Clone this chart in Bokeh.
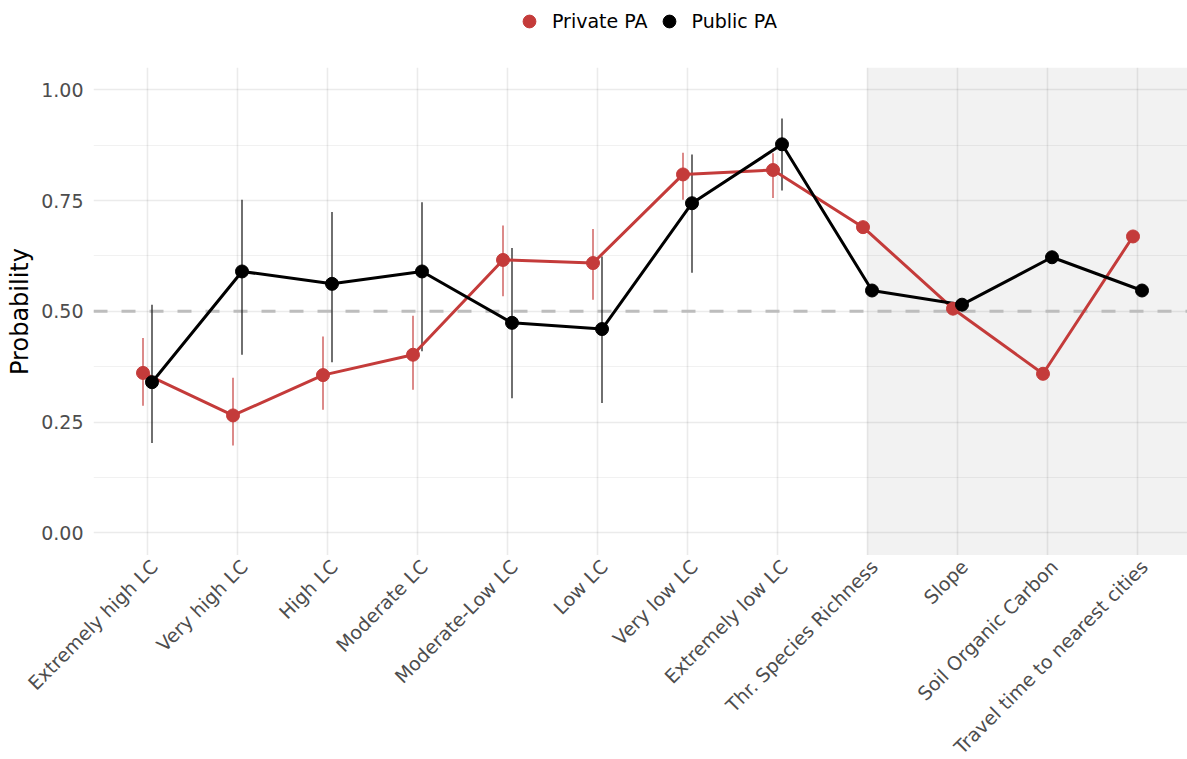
import math
from bokeh.plotting import figure
from bokeh.layouts import column, row
from bokeh.models import (ColumnDataSource, Range1d, FixedTicker, BoxAnnotation, Span,
                          Legend, LegendItem, NumeralTickFormatter)
from bokeh.core.properties import value
from bokeh.embed import file_html
from bokeh.resources import INLINE

# ---- data -------------------------------------------------------------
categories = ["Extremely high LC", "Very high LC", "High LC", "Moderate LC",
              "Moderate-Low LC", "Low LC", "Very low LC", "Extremely low LC",
              "Thr. Species Richness", "Slope", "Soil Organic Carbon",
              "Travel time to nearest cities"]

private_prob = [0.361, 0.265, 0.356, 0.402, 0.616, 0.609, 0.809, 0.819,
                0.690, 0.506, 0.359, 0.669]
public_prob = [0.340, 0.590, 0.562, 0.590, 0.474, 0.460, 0.744, 0.877,
               0.547, 0.515, 0.622, 0.547]

# confidence intervals exist for the land-cover classes only
private_lo = [0.287, 0.197, 0.278, 0.323, 0.534, 0.526, 0.752, 0.756]
private_hi = [0.440, 0.350, 0.443, 0.490, 0.694, 0.686, 0.858, 0.857]
public_lo = [0.203, 0.402, 0.385, 0.410, 0.304, 0.293, 0.587, 0.773]
public_hi = [0.515, 0.752, 0.724, 0.746, 0.643, 0.624, 0.854, 0.935]

y_ticks = [0.0, 0.25, 0.5, 0.75, 1.0]
y_minor = [0.125, 0.375, 0.625, 0.875]

# ---- styling ----------------------------------------------------------
RED = "#C43B3A"
BLACK = "#000000"
FONT = "DejaVu Sans"
DODGE = 0.05

W = 1187
LEGEND_H = 45          # strip holding the legend
TOP = 22               # gap between legend strip and panel
FRAME_H = 488          # panel height
LABEL_H = 204          # strip holding the rotated category names
LEFT = 93
px_per_unit = 90.0
x_start = 1 - 54 / px_per_unit
x_end = x_start + (W - LEFT) / px_per_unit

pos = list(range(1, len(categories) + 1))


def bare(fig):
    fig.outline_line_color = None
    fig.background_fill_color = "white"
    fig.border_fill_color = "white"
    return fig


# ---- main panel -------------------------------------------------------
p = bare(figure(width=W, height=TOP + FRAME_H, output_backend="svg",
                toolbar_location=None,
                x_range=Range1d(x_start, x_end), y_range=Range1d(-0.0512, 1.0504),
                min_border_left=LEFT, min_border_right=0, min_border_top=TOP,
                min_border_bottom=0))

# shaded panel behind the non land-cover covariates
p.add_layout(BoxAnnotation(left=9, fill_color="#f2f2f2", fill_alpha=1.0,
                           line_color=None, level="image"))

p.xgrid.ticker = FixedTicker(ticks=pos)
p.ygrid.ticker = FixedTicker(ticks=y_ticks, minor_ticks=y_minor)
for g in (p.xgrid, p.ygrid):
    g.grid_line_color = "black"
    g.grid_line_alpha = 0.08
    g.grid_line_width = 1.6
p.ygrid.minor_grid_line_color = "black"
p.ygrid.minor_grid_line_alpha = 0.055
p.ygrid.minor_grid_line_width = 1.0

# reference line at 0.5
p.add_layout(Span(location=0.5, dimension="width", line_color="#bdbdbd",
                  line_width=3, line_dash="14 14", level="underlay"))

p.xaxis.visible = False
p.yaxis.ticker = FixedTicker(ticks=y_ticks)
p.yaxis.formatter = NumeralTickFormatter(format="0.00")
p.yaxis.axis_label = "Probability"
p.yaxis.axis_line_color = None
p.yaxis.major_tick_line_color = None
p.yaxis.minor_tick_line_color = None
p.yaxis.major_tick_out = 0
p.yaxis.major_tick_in = 0
p.yaxis.minor_tick_out = 0
p.yaxis.major_label_text_font = FONT
p.yaxis.major_label_text_font_size = "19px"
p.yaxis.major_label_text_color = "#4d4d4d"
p.yaxis.major_label_standoff = 10
p.yaxis.axis_label_text_font = FONT
p.yaxis.axis_label_text_font_size = "24px"
p.yaxis.axis_label_text_font_style = "normal"
p.yaxis.axis_label_text_color = "black"
p.yaxis.axis_label_standoff = 4

n_ci = len(private_lo)
priv_x = [x - DODGE for x in pos]
pub_x = [x + DODGE for x in pos]

priv_err = ColumnDataSource(dict(x=priv_x[:n_ci], lo=private_lo, hi=private_hi))
pub_err = ColumnDataSource(dict(x=pub_x[:n_ci], lo=public_lo, hi=public_hi))
priv_src = ColumnDataSource(dict(x=priv_x, y=private_prob))
pub_src = ColumnDataSource(dict(x=pub_x, y=public_prob))

p.segment(x0="x", y0="lo", x1="x", y1="hi", source=priv_err,
          line_color=RED, line_alpha=0.85, line_width=1.4)
p.segment(x0="x", y0="lo", x1="x", y1="hi", source=pub_err,
          line_color="#222222", line_width=1.3)
p.line("x", "y", source=priv_src, line_color=RED, line_width=3)
p.line("x", "y", source=pub_src, line_color=BLACK, line_width=3)
p.scatter("x", "y", source=priv_src, size=13, fill_color=RED, line_color=RED)
p.scatter("x", "y", source=pub_src, size=13, fill_color=BLACK, line_color=BLACK)

# ---- legend strip -----------------------------------------------------
lg = bare(figure(width=W, height=LEGEND_H, output_backend="svg",
                 toolbar_location=None, x_range=Range1d(0, 1), y_range=Range1d(0, 1),
                 x_axis_type=None, y_axis_type=None, min_border=0))
lg.grid.visible = False
off = ColumnDataSource(dict(x=[-10], y=[-10]))
k_priv = lg.scatter("x", "y", source=off, fill_color=RED, line_color=RED)
k_pub = lg.scatter("x", "y", source=off, fill_color=BLACK, line_color=BLACK)
lg.add_layout(Legend(items=[LegendItem(label="Private PA", renderers=[k_priv]),
                            LegendItem(label="Public PA", renderers=[k_pub])],
                     orientation="horizontal", location=(420, 8),
                     label_text_font=FONT, label_text_font_size="19px",
                     label_text_color="black", glyph_width=32, glyph_height=32,
                     label_standoff=7, spacing=5, padding=0, margin=0,
                     border_line_color=None, background_fill_alpha=0))

# ---- category label strip (same horizontal scale, frame spans full width) --
lab = bare(figure(width=W, height=LABEL_H, output_backend="svg",
                  toolbar_location=None,
                  x_range=Range1d(x_start - LEFT / px_per_unit, x_end),
                  y_range=Range1d(-LABEL_H, 0),
                  x_axis_type=None, y_axis_type=None, min_border=0))
lab.grid.visible = False
lab.text(x=pos, y=[0] * len(pos), text=categories, angle=math.pi / 4,
         x_offset=-1, text_align="right", text_baseline="top",
         text_font=value(FONT), text_font_size="19px", text_color="#4d4d4d")

layout = column(lg, p, row(lab, spacing=0), spacing=0)
open("out.html", "w").write(file_html(layout, INLINE))
